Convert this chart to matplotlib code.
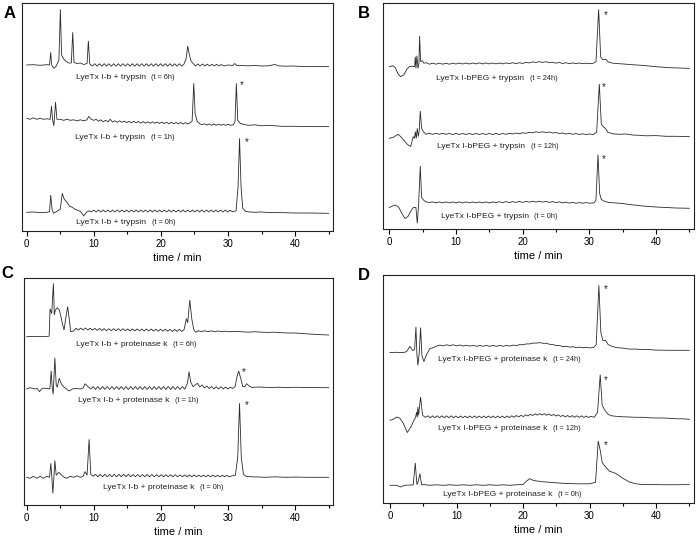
import matplotlib
matplotlib.use("Agg")
import matplotlib.pyplot as plt
from matplotlib.offsetbox import TextArea, HPacker, AnnotationBbox
from matplotlib.ticker import MultipleLocator

plt.rcParams['font.family'] = ['Liberation Sans', 'DejaVu Sans']

# ---------------- data: (time / min, signal above trace baseline) ----------------
A1 = [(0,0),(1,0.3),(2,-0.3),(3,0.3),(3.4,0),(3.58,12.7),(3.72,0),(3.9,-2),(4.1,-3.3),(4.4,-1),(4.8,5),(5.02,55.7),(5.2,10),(5.5,6),(5.9,3.5),(6.3,2),(6.65,2),(6.86,32.7),(7.05,2.5),(7.5,1.5),(8.0,2),(8.5,0.5),(9.0,1.5),(9.19,24),(9.4,1),(9.8,-1),(10.15,1.3),(10.5,-1.2),(10.85,1.3),(11.2,-1.2),(11.55,1.3),(11.9,-1.2),(12.25,1.3),(12.6,-1.2),(12.95,1.3),(13.3,-1.2),(13.65,1.3),(14.0,-1.2),(14.35,1.3),(14.7,-1.2),(15.05,1.3),(15.4,-1.2),(15.75,1.3),(16.1,-1.2),(16.45,1.3),(16.8,-1.2),(17.15,1.3),(17.5,-1.2),(17.85,1.3),(18.2,-1.2),(18.55,1.3),(18.9,-1.2),(19.25,1.3),(19.6,-1.2),(19.95,1.3),(20.3,-1.2),(20.65,1.3),(21.0,-1.2),(21.35,1.3),(21.7,-1.2),(22.05,1.3),(22.4,-1.2),(22.75,1.3),(23.1,-1.2),(23.45,1),(23.75,6),(24.0,19),(24.25,10),(24.5,4),(24.8,1.5),(25.15,-1),(25.5,1),(25.85,-1),(26.2,1),(26.55,-1),(26.9,0.8),(27.25,-1),(27.6,0.8),(27.95,-1),(28.3,0.8),(28.65,-1),(29.0,0.5),(29.4,-1),(30.0,0),(30.7,-0.5),(31.0,1.5),(31.3,-0.5),(32,-0.5),(33,-0.8),(34,-0.5),(35,-1),(36,-0.8),(37,0.5),(37.5,-0.8),(38.5,-1.2),(39.5,-1),(40.5,-1.3),(42,-1.5),(45,-1.7)]
A2 = [(0,0),(0.5,-1),(1,0.5),(1.5,-1),(2,0),(2.5,-1),(3,-0.5),(3.5,-1),(3.7,12.3),(3.85,-1),(4.05,-7.5),(4.3,16.3),(4.5,-1),(5,-1),(5.5,-2),(6,-1),(6.5,-2),(7,-1.5),(7.5,-2.5),(8,-1.5),(8.5,-2.5),(9.0,-1.5),(9.25,2),(9.6,-1),(10,-2),(10.35,-1),(10.7,-3),(11.05,-1.5),(11.4,-3.5),(11.75,-2),(12.1,-3.5),(12.45,-1),(12.8,-3.8),(13.15,-2.5),(13.5,-4),(13.85,-2.5),(14.2,-4),(14.55,-2.8),(14.9,-4.3),(15.25,-3),(15.6,-4.5),(15.95,-3),(16.3,-4.5),(16.65,-3.2),(17.0,-4.8),(17.35,-3.3),(17.7,-4.8),(18.05,-3.5),(18.4,-5),(18.75,-3.5),(19.1,-5),(19.45,-3.8),(19.8,-5.2),(20.15,-3.8),(20.5,-5.3),(20.85,-4),(21.2,-5.5),(21.55,-4),(21.9,-5.5),(22.25,-4.2),(22.6,-5.5),(22.95,-4.2),(23.3,-5.7),(23.65,-4.3),(24.0,-5.7),(24.35,-4.5),(24.65,-3),(24.9,35),(25.1,5),(25.4,-3),(25.8,-5.5),(26.15,-6.5),(26.5,-5.5),(26.85,-6.8),(27.2,-5.6),(27.55,-7),(27.9,-5.7),(28.25,-7),(28.6,-5.8),(28.95,-7),(29.3,-6),(29.65,-7),(30.0,-6),(30.4,-7),(30.8,-6.5),(31.05,-3),(31.25,35),(31.45,-2),(31.8,-5),(32.3,-6),(33,-7),(34,-6.5),(35,-7.5),(36,-7),(37,-7.5),(38,-8),(40,-8),(42,-8.3),(45,-8.3)]
A3 = [(0,0),(1,0.3),(2,-0.3),(3,0),(3.4,0.5),(3.58,17.3),(3.78,3),(4.0,-1),(4.5,1),(5.0,3),(5.3,19),(5.6,13),(6.0,10),(6.4,6),(6.8,5),(7.2,3),(7.6,2),(8.0,1),(8.5,-3.7),(8.9,0),(9.3,1.5),(9.65,0.3),(10.0,2.3),(10.35,0.3),(10.7,2.3),(11.05,0.3),(11.4,2.3),(11.75,0.3),(12.1,2.3),(12.45,0.3),(12.8,2.3),(13.15,0.3),(13.5,2.3),(13.85,0.3),(14.2,2.3),(14.55,0.3),(14.9,2.3),(15.25,0.3),(15.6,2.3),(15.95,0.3),(16.3,2.3),(16.65,0.3),(17.0,2.3),(17.35,0.3),(17.7,2.3),(18.05,0.3),(18.4,2.3),(18.75,0.3),(19.1,2.3),(19.45,0.3),(19.8,2.3),(20.15,0.3),(20.5,2.3),(20.85,0.3),(21.2,2.3),(21.55,0.3),(21.9,2.3),(22.25,0.3),(22.6,2.3),(22.95,0.3),(23.3,2.3),(23.65,0.3),(24.0,2.3),(24.35,0.3),(24.7,2.3),(25.05,0.3),(25.4,2.3),(25.75,0.3),(26.1,2.3),(26.45,0.3),(26.8,2.3),(27.15,0.3),(27.5,2.3),(27.85,0.3),(28.2,2.3),(28.55,0.3),(28.9,2.3),(29.25,0.3),(29.6,2.3),(29.95,0.3),(30.3,2),(30.7,0.5),(31.2,1.5),(31.5,25),(31.72,74),(31.95,25),(32.2,4),(32.6,1),(33,0.5),(34,0),(35,0.3),(36,-0.3),(38,-0.3),(40,-0.7),(42,-0.7),(45,-1)]

B1 = [(0,0),(0.5,1),(0.9,-1),(1.3,-7),(1.7,-10),(2.2,-8),(2.6,-3),(3.0,0),(3.5,0.5),(3.8,0),(3.9,10),(4.0,-1.5),(4.15,11),(4.3,-1.7),(4.45,3),(4.55,30.7),(4.7,5),(4.95,6),(5.2,3.5),(5.6,4),(6.0,2.5),(6.5,3.5),(7.0,2.5),(7.5,3.5),(8,2.5),(8.5,3.5),(9,2.5),(9.5,3.5),(10,2.7),(10.5,3.7),(11,2.7),(11.5,3.7),(12,2.7),(12.5,3.7),(13,2.8),(13.5,3.8),(14,2.8),(14.5,3.8),(15,2.8),(15.5,3.7),(16,2.8),(16.5,3.7),(17,2.8),(17.5,3.8),(18,3),(18.5,4),(19,3),(19.5,4),(20,3.3),(20.5,4.3),(21,3.8),(21.5,4.8),(22,4.3),(22.5,5),(23,4.3),(23.5,5),(24,4),(24.5,4.5),(25,3.5),(25.5,4.3),(26,3.2),(26.5,4),(27,3),(27.5,3.8),(28,3),(28.5,3.7),(29,3),(29.5,3.5),(30,3),(30.6,3.5),(31.0,5),(31.4,57.3),(31.7,10),(32.0,7),(32.5,7.3),(32.85,4.7),(33.5,3.5),(34.5,3),(35.5,2.5),(36.5,2),(37.5,1.5),(38.5,1),(40,0),(42,-1),(43.5,-1.3),(45,-1.7)]
B2 = [(0,0),(0.6,1),(1.35,4),(1.7,1.7),(2.2,-2),(2.7,-6),(3.2,-8.3),(3.6,1.7),(3.8,0),(3.9,6.7),(4.05,0),(4.2,10),(4.35,1.7),(4.5,8),(4.65,27.3),(4.85,10),(5.1,6.7),(5.5,4),(6,5),(6.5,4),(7,5),(7.5,4),(8,5),(8.5,4),(9,4.8),(9.5,3.8),(10,4.8),(10.5,3.8),(11,4.8),(11.5,3.8),(12,4.8),(12.5,3.8),(13,4.8),(13.5,3.8),(14,4.8),(14.5,3.8),(15,4.8),(15.5,3.8),(16,4.8),(16.5,3.8),(17,4.8),(17.5,4),(18,5),(18.5,4.3),(19,5.3),(19.5,4.5),(20,5.5),(20.5,5),(21,6),(21.5,5.5),(22,6.5),(22.5,5.8),(23,6.5),(23.5,5.8),(24,6.3),(24.5,5.3),(25,5.8),(25.5,4.8),(26,5.3),(26.5,4.3),(27,5),(27.5,4),(28,4.7),(28.5,3.8),(29,4.5),(29.5,3.8),(30,4.3),(30.6,3.8),(31.1,6),(31.5,54.3),(31.8,14),(32.1,11.7),(32.4,10),(32.8,6),(33.5,4.5),(34.5,4),(35.5,4.3),(36.5,3.3),(37.5,3),(38.5,2.5),(40,2.7),(41.5,2),(43,2),(45,1.7)]
B3 = [(0,0),(0.5,1.5),(0.9,2.5),(1.4,0.5),(1.9,-6),(2.35,-11),(2.8,-9),(3.2,-4),(3.6,0),(4.0,0),(4.2,-15.8),(4.4,3),(4.65,41.5),(4.85,10),(5.2,7),(5.6,5.5),(6,5),(6.5,5.6),(7,4.6),(7.5,5.6),(8,4.6),(8.5,5.6),(9,4.6),(9.5,5.6),(10,4.6),(10.5,5.6),(11,4.6),(11.5,5.6),(12,4.6),(12.5,5.6),(13,4.6),(13.5,5.6),(14,4.6),(14.5,5.6),(15,4.6),(15.5,5.6),(16,4.8),(16.5,5.8),(17,4.8),(17.5,5.9),(18,4.9),(18.5,5.9),(19,5.1),(19.5,6.1),(20,5.1),(20.5,6.1),(21,5.4),(21.5,6.3),(22,5.4),(22.5,6.3),(23,5.4),(23.5,6.1),(24,5.1),(24.5,5.9),(25,4.9),(25.5,5.6),(26,4.6),(26.5,5.4),(27,4.4),(27.5,5.1),(28,4.3),(28.5,4.9),(29,4.3),(29.5,4.9),(30,4.3),(30.7,4.6),(31.0,7.5),(31.3,53),(31.55,14),(31.8,8),(32.3,6),(33,5),(34,4.5),(35,4),(36,3),(37,2.3),(38,1.5),(39,1),(40,0.5),(41.5,0),(43,-0.5),(45,-0.8)]

C1 = [(0,0),(1,0.3),(2,0),(3,0.3),(3.35,0.5),(3.48,28),(3.73,23),(3.98,53.3),(4.12,21.7),(4.27,26.7),(4.57,29),(4.87,26.7),(5.17,18),(5.37,11.7),(5.57,6.7),(5.81,18),(6.1,30),(6.36,16.7),(6.56,5),(7.0,5.7),(7.35,8.5),(7.7,6.5),(8.05,8.7),(8.4,6.7),(8.75,8.7),(9.1,6.7),(9.45,8.5),(9.8,6.5),(10.15,8.3),(10.5,6.3),(10.85,8.2),(11.2,6.2),(11.55,8),(11.9,6),(12.25,8),(12.6,6),(12.95,8),(13.3,6),(13.65,8),(14.0,6),(14.35,8),(14.7,6),(15.05,7.8),(15.4,5.8),(15.75,7.8),(16.1,5.8),(16.45,7.8),(16.8,5.8),(17.15,7.7),(17.5,5.7),(17.85,7.7),(18.2,5.7),(18.55,7.7),(18.9,5.7),(19.25,7.5),(19.6,5.5),(19.95,7.5),(20.3,5.5),(20.65,7.5),(21.0,5.5),(21.35,7.3),(21.7,5.3),(22.05,7.3),(22.4,5.3),(22.75,7.3),(23.1,5.3),(23.45,7),(23.8,18),(24.0,14),(24.3,36.7),(24.6,18),(24.9,7),(25.2,4.5),(25.6,6),(26,5),(26.5,6),(27,5),(27.5,5.8),(28,5),(28.5,5.7),(29,5),(29.5,5.5),(30,5),(31,5.3),(32,5),(33,4.5),(34,5),(35,4.5),(36,4.3),(37,4.5),(38,4),(39,3.7),(40,3.7),(41.5,3),(43,2.3),(45,1.7)]
C2 = [(0,0),(0.5,1.3),(1.2,0),(1.6,0.5),(1.9,-2.7),(2.3,0.7),(3.0,0.7),(3.45,0),(3.65,18),(3.8,2),(3.95,-5.3),(4.2,31.3),(4.4,4),(4.55,1.7),(4.85,10.7),(5.2,4.7),(5.6,1.7),(6.3,-2),(6.8,0),(7.5,0.7),(8.0,0),(8.4,1),(8.7,5.3),(9.2,2),(9.55,0),(9.9,2.5),(10.25,-0.5),(10.6,2.5),(10.95,-0.5),(11.3,2.5),(11.65,-0.5),(12.0,2.5),(12.35,-0.5),(12.7,2.5),(13.05,-0.5),(13.4,2.5),(13.75,-0.5),(14.1,2.5),(14.45,-0.5),(14.8,2.5),(15.15,-0.5),(15.5,2.5),(15.85,-0.5),(16.2,2.5),(16.55,-0.5),(16.9,2.5),(17.25,-0.5),(17.6,2.5),(17.95,-0.5),(18.3,2.5),(18.65,-0.5),(19.0,2.5),(19.35,-0.5),(19.7,2.5),(20.05,-0.5),(20.4,2.5),(20.75,-0.5),(21.1,2.5),(21.45,-0.5),(21.8,2.5),(22.15,-0.5),(22.5,2.5),(22.85,-0.5),(23.2,2.5),(23.55,-0.3),(23.95,5.7),(24.2,17.3),(24.45,6.7),(24.8,2.3),(25.1,4),(25.45,5.7),(25.8,2),(26.15,4),(26.5,1),(26.85,3),(27.2,0.5),(27.55,2.5),(27.9,0),(28.25,2.3),(28.6,0),(28.95,2.3),(29.3,0),(29.65,2),(30.0,0),(30.35,1.8),(30.7,0.5),(31.05,2.3),(31.35,12.3),(31.6,18),(31.9,10.7),(32.2,2.3),(32.5,2.5),(32.8,5.3),(33.2,2.7),(33.6,1.5),(34.5,2),(35.5,1.7),(36.5,1.5),(37.5,1.8),(38.5,1.5),(40,1.7),(42,1.5),(45,1.3)]
C3 = [(0,0),(0.5,-1),(1,1),(1.5,-1),(2,1),(2.5,-1),(3,1),(3.4,0),(3.6,14),(3.75,0),(3.9,-16),(4.05,0),(4.2,16.7),(4.4,2),(4.8,5),(5.2,2),(5.6,0),(6.0,-1),(6.5,1),(7.0,0),(7.5,1.5),(8.0,0),(8.4,1),(8.7,5.7),(9.0,2),(9.3,38),(9.55,3),(9.9,1),(10.25,3),(10.6,0.5),(10.95,3),(11.3,0.5),(11.65,3),(12.0,0.5),(12.35,3),(12.7,0.5),(13.05,3),(13.4,0.5),(13.75,3),(14.1,0.5),(14.45,3),(14.8,0.5),(15.15,3),(15.5,0.5),(15.85,2.8),(16.2,0.5),(16.55,2.8),(16.9,0.5),(17.25,2.8),(17.6,0.5),(17.95,2.8),(18.3,0.5),(18.65,2.8),(19.0,0.5),(19.35,2.6),(19.7,0.5),(20.05,2.6),(20.4,0.5),(20.75,2.6),(21.1,0.5),(21.45,2.6),(21.8,0.5),(22.15,2.6),(22.5,0.5),(22.85,2.4),(23.2,0.5),(23.55,2.4),(23.9,0.5),(24.25,2.4),(24.6,0.5),(24.95,2.4),(25.3,0.5),(25.65,2.2),(26.0,0.5),(26.35,2.2),(26.7,0.5),(27.05,2.2),(27.4,0.5),(27.75,2.2),(28.1,0.5),(28.45,2),(28.8,0.5),(29.15,2),(29.5,0.5),(29.85,2),(30.2,0.5),(30.6,1.5),(31.1,2),(31.45,20),(31.72,74),(31.98,20),(32.3,3),(32.7,1),(33.5,0.5),(34.5,0.3),(35.5,0),(37,0.5),(38.5,0),(40,0.2),(42,0),(45,0)]

D1 = [(0,0),(1,0.3),(2,0),(2.5,1),(3.0,6.3),(3.4,2),(3.7,3),(3.9,25.7),(4.05,-2),(4.2,-12.7),(4.4,0),(4.6,25),(4.8,-3),(5.1,-9),(5.5,-2),(6.0,4),(6.5,5),(7.0,6.5),(7.5,7.5),(8,6.8),(8.5,7.8),(9,7),(9.5,7.8),(10,6.8),(10.5,7.6),(11,6.6),(11.5,7.4),(12,6.5),(12.5,7.3),(13,6.3),(13.5,7.2),(14,6.3),(14.5,7.2),(15,6.3),(15.5,7.2),(16,6.3),(16.5,7.2),(17,6.3),(17.5,7.3),(18,6.5),(18.5,7.5),(19,7),(19.5,8),(20,7.8),(20.5,8.7),(21,8.7),(21.5,9.5),(22,9.5),(22.5,10),(23,9.3),(23.5,9.3),(24,8.3),(24.5,8),(25,7),(25.5,7),(26,6),(26.5,6.3),(27,5.5),(27.5,5.8),(28,5),(28.5,5.5),(29,4.8),(29.5,5.3),(30,4.7),(30.6,5),(31.0,8),(31.4,67.3),(31.7,20),(32.0,12),(32.4,12.3),(32.8,8),(33.3,6.5),(34,5),(35,4.5),(36,3.5),(37,3.5),(38,3),(39,3),(40,2.5),(42,2.3),(45,2.3)]
D2 = [(0,0),(0.5,1),(1.0,3.3),(1.5,2),(2.0,-3),(2.6,-12.3),(3.2,-6),(3.6,0),(3.85,3),(4.0,8.3),(4.1,3),(4.2,13.3),(4.3,5),(4.6,23.3),(4.9,5),(5.3,3),(5.7,4.5),(6.05,2.5),(6.4,4.5),(6.75,2.5),(7.1,4.5),(7.45,2.5),(7.8,4.5),(8.15,2.5),(8.5,4.5),(8.85,2.5),(9.2,4.5),(9.55,2.5),(9.9,4.3),(10.25,2.5),(10.6,4.3),(10.95,2.5),(11.3,4.3),(11.65,2.5),(12.0,4.3),(12.35,2.5),(12.7,4.3),(13.05,2.5),(13.4,4.3),(13.75,2.5),(14.1,4.3),(14.45,2.5),(14.8,4.3),(15.15,2.5),(15.5,4.3),(15.85,2.5),(16.2,4.3),(16.55,2.5),(16.9,4.3),(17.25,2.5),(17.6,4.3),(17.95,2.7),(18.3,4.5),(18.65,3),(19.0,4.8),(19.35,3.3),(19.7,5),(20.05,3.7),(20.4,5.5),(20.75,4.3),(21.1,6),(21.45,4.8),(21.8,6.5),(22.15,5.2),(22.5,6.7),(22.85,5.3),(23.2,6.7),(23.55,5),(23.9,6.3),(24.25,4.7),(24.6,5.8),(24.95,4.3),(25.3,5.5),(25.65,3.8),(26.0,5),(26.35,3.3),(26.7,4.8),(27.05,3.2),(27.4,4.7),(27.75,3),(28.1,4.5),(28.45,3),(28.8,4.5),(29.15,2.8),(29.5,4.3),(29.85,2.8),(30.2,4),(30.7,3),(31.2,8),(31.6,45.7),(31.9,15),(32.3,10),(32.8,6),(33.3,4.5),(34,4),(35,3.5),(36,3.3),(37,3),(38,3),(39,2.5),(40,2.3),(41,2.3),(42,2),(43,1.5),(44,1.5),(45,1)]
D3 = [(0,0),(1.0,0),(1.6,-1.7),(2.2,0),(3.0,0.3),(3.5,0.5),(3.8,22.3),(4.05,0.7),(4.25,4),(4.5,11.7),(4.75,0.5),(5.2,0.7),(6,0),(7,0.5),(8,0),(9,0.5),(10,0),(11,0.5),(12,0),(13,0.5),(14,0),(15,0.5),(16,0),(17,0.5),(18,0),(19,0.5),(20,0.8),(20.5,4),(21.0,6.7),(21.5,5),(22,4.3),(22.5,4),(23,3.5),(23.5,3.3),(24,3),(25,2.5),(26,2),(27,1.8),(28,1.5),(29,1.5),(30,1.5),(30.9,3),(31.3,44.3),(31.6,35),(31.9,23),(32.2,20),(32.6,17),(33,14),(33.5,13),(34,11.7),(35,7),(36,3.3),(37,1.5),(38,0.7),(40,0.7),(42,0.5),(45,0.7)]

SAMPLES = {
    'A': ["LyeTx I-b + trypsin"] * 3,
    'B': ["LyeTx I-bPEG + trypsin"] * 3,
    'C': ["LyeTx I-b + proteinase k"] * 3,
    'D': ["LyeTx I-bPEG + proteinase k"] * 3,
}
TIMES = {
    'A': ["(t = 6h)", "(t = 1h)", "(t = 0h)"],
    'B': ["(t = 24h)", "(t = 12h)", "(t = 0h)"],
    'C': ["(t = 6h)", "(t = 1h)", "(t = 0h)"],
    'D': ["(t = 24h)", "(t = 12h)", "(t = 0h)"],
}
TRACES = {'A': [A1, A2, A3], 'B': [B1, B2, B3], 'C': [C1, C2, C3], 'D': [D1, D2, D3]}
# asterisk-marked peak (index of trace -> (time, height))
STARS = {'A': {1: (32.05, 33), 2: (32.8, 70)},
         'B': {0: (32.45, 52), 1: (32.2, 51), 2: (32.2, 48)},
         'C': {1: (32.4, 17), 2: (32.8, 72)},
         'D': {0: (32.4, 64), 1: (32.4, 40), 2: (32.4, 40)}}

# ---------------- layout (pixels) ----------------
W, H = 698, 541
PANEL_BOX = {'A': (22, 3, 333, 231), 'B': (383, 3, 694, 229),
             'C': (24, 278, 333, 505), 'D': (383, 275, 694, 503)}
XLIM = {'A': (-0.7, 45.65), 'B': (-0.94, 45.7), 'C': (-0.4, 45.65), 'D': (-1.05, 45.7)}
BASE = {'A': [166, 112.7, 18.7], 'B': [162.3, 90.7, 21.5],
        'C': [168.3, 116, 27.7], 'D': [150.4, 82.7, 17.7]}
LABEL_POS = {'A': [(14.7, 153.7), (14.6, 93.3), (14.8, 9)],
             'B': [(16.1, 151), (16.3, 82), (16.5, 12)],
             'C': [(16.3, 160), (16.6, 104), (20.3, 17.3)],
             'D': [(18.0, 143.7), (18.0, 74), (18.4, 8.7)]}
LETTER_POS = {'A': (10, 13), 'B': (364, 13), 'C': (7, 273), 'D': (364, 275)}

fig = plt.figure(figsize=(W / 100, H / 100), dpi=100)
line_color = '#2b2b2b'

for key in ['A', 'B', 'C', 'D']:
    l, t, r, b = PANEL_BOX[key]
    ax = fig.add_axes([l / W, 1 - b / H, (r - l) / W, (b - t) / H])
    ax.set_xlim(*XLIM[key])
    ax.set_ylim(0, b - t)
    for i, tr in enumerate(TRACES[key]):
        ts = [p[0] for p in tr]
        ys = [p[1] + BASE[key][i] for p in tr]
        ax.plot(ts, ys, color=line_color, lw=0.6, solid_joinstyle='miter')
        ta1 = TextArea(SAMPLES[key][i], textprops=dict(fontsize=6.1, color='#222222'))
        ta2 = TextArea(TIMES[key][i], textprops=dict(fontsize=5.3, color='#222222'))
        pack = HPacker(children=[ta1, ta2], align='baseline', pad=0, sep=4)
        lx, ly = LABEL_POS[key][i]
        ab = AnnotationBbox(pack, (lx, ly), xycoords='data', frameon=False,
                            box_alignment=(0.5, 0.5), pad=0)
        ax.add_artist(ab)
        if i in STARS[key]:
            sx, sy = STARS[key][i]
            ax.text(sx, sy + BASE[key][i], '*', fontsize=7, ha='center', va='center',
                    color='#222222')
    ax.set_yticks([])
    ax.xaxis.set_major_locator(MultipleLocator(10))
    ax.xaxis.set_minor_locator(MultipleLocator(5))
    ax.tick_params(axis='x', which='major', direction='out', length=3.5, width=0.8,
                   labelsize=7, pad=2)
    ax.tick_params(axis='x', which='minor', direction='out', length=2, width=0.8)
    for sp in ax.spines.values():
        sp.set_linewidth(0.8)
        sp.set_color('#222222')
    ax.set_xlabel('time / min', fontsize=8, labelpad=3)
    lx, ly = LETTER_POS[key]
    fig.text(lx / W, 1 - ly / H, key, fontsize=12, fontweight='bold',
             ha='center', va='center')

fig.savefig('out.png', dpi=100)
